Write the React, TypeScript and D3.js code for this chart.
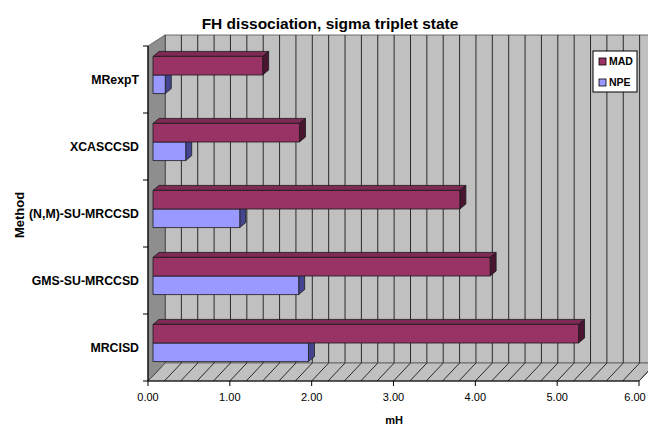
import React from "react";
import * as d3 from "d3";

const categories = ["MRexpT", "XCASCCSD", "(N,M)-SU-MRCCSD", "GMS-SU-MRCCSD", "MRCISD"];
const seriesNames = ["MAD", "NPE"];
const madValues = [1.34, 1.79, 3.75, 4.12, 5.2];
const npeValues = [0.15, 0.4, 1.06, 1.78, 1.9];
const xTicks = [0, 1, 2, 3, 4, 5, 6];
const gridStep = 0.2;

const W = 648, H = 429;
const FRONT_L = 148, FRONT_B = 381, FRONT_T = 46;
const BACK_DX = 17, BACK_DY = -18, WALL_TOP = 35;
const BAR_DX = 5, BAR_DY = -4.5, BAR_DEPTH_X = 6, BAR_DEPTH_Y = -5;

const colors: Record<string, { front: string; top: string; side: string }> = {
  MAD: { front: "#993366", top: "#7d2a54", side: "#4a1530" },
  NPE: { front: "#9999ff", top: "#7a7acc", side: "#45458f" },
};

export default function App() {
  const x = d3.scaleLinear().domain([0, 6]).range([FRONT_L, 639]);
  const y = d3.scaleBand<string>().domain(categories).range([FRONT_T, FRONT_B]).paddingInner(0.445).paddingOuter(0.2225);
  const ySub = d3.scaleBand<string>().domain(seriesNames).range([0, y.bandwidth()]);
  const bandEdges = d3.scaleBand<string>().domain(categories).range([FRONT_T, FRONT_B]);
  const grid = d3.range(0, 6 + 1e-9, gridStep);
  const font = "'Liberation Sans', Arial, sans-serif";

  const renderBar = (cat: string, s: string, v: number) => {
    const x0 = x(0) + BAR_DX;
    const x1 = x(v) + BAR_DX;
    const y0 = (y(cat) as number) + (ySub(s) as number) + BAR_DY;
    const h = ySub.bandwidth();
    const c = colors[s];
    const dx = BAR_DEPTH_X, dy = BAR_DEPTH_Y;
    return (
      <g key={cat + s} stroke="#1a1a1a" strokeWidth={0.8} strokeLinejoin="round">
        <polygon points={`${x0},${y0} ${x1},${y0} ${x1 + dx},${y0 + dy} ${x0 + dx},${y0 + dy}`} fill={c.top} />
        <polygon points={`${x1},${y0} ${x1 + dx},${y0 + dy} ${x1 + dx},${y0 + h + dy} ${x1},${y0 + h}`} fill={c.side} />
        <rect x={x0} y={y0} width={x1 - x0} height={h} fill={c.front} />
      </g>
    );
  };

  return (
    <svg width={W} height={H} style={{ position: "absolute", left: 0, top: 0, background: "#fff" }} fontFamily={font}>
      {/* back wall */}
      <rect x={FRONT_L + BACK_DX} y={WALL_TOP} width={W} height={FRONT_B + BACK_DY - WALL_TOP} fill="#c0c0c0" stroke="#555" strokeWidth={0.8} />
      {grid.map((g, i) => (
        <line key={"g" + i} x1={x(g) + BACK_DX} x2={x(g) + BACK_DX} y1={WALL_TOP} y2={FRONT_B + BACK_DY} stroke="#2a2a2a" strokeWidth={1} />
      ))}
      {/* floor */}
      <polygon
        points={`${FRONT_L},${FRONT_B} ${x(6)},${FRONT_B} ${x(6) + BACK_DX},${FRONT_B + BACK_DY} ${FRONT_L + BACK_DX},${FRONT_B + BACK_DY}`}
        fill="#c0c0c0" stroke="#555" strokeWidth={0.8}
      />
      {grid.map((g, i) => (
        <line key={"f" + i} x1={x(g)} y1={FRONT_B} x2={x(g) + BACK_DX} y2={FRONT_B + BACK_DY} stroke="#2a2a2a" strokeWidth={1} />
      ))}
      {/* left wall */}
      <polygon
        points={`${FRONT_L},${FRONT_T} ${FRONT_L + BACK_DX},${WALL_TOP} ${FRONT_L + BACK_DX},${FRONT_B + BACK_DY} ${FRONT_L},${FRONT_B}`}
        fill="#8e8e8e" stroke="#555" strokeWidth={0.8}
      />
      {/* bars */}
      {categories.map((cat, i) => (
        <g key={cat}>
          {renderBar(cat, "NPE", npeValues[i])}
          {renderBar(cat, "MAD", madValues[i])}
        </g>
      ))}
      {/* axes */}
      <line x1={FRONT_L} x2={FRONT_L} y1={FRONT_T} y2={FRONT_B} stroke="#000" strokeWidth={1.2} />
      {categories.map((cat) => (
        <line key={"t" + cat} x1={FRONT_L - 5} x2={FRONT_L} y1={bandEdges(cat) as number} y2={bandEdges(cat) as number} stroke="#000" />
      ))}
      <line x1={FRONT_L - 5} x2={FRONT_L} y1={FRONT_B} y2={FRONT_B} stroke="#000" />
      <line x1={FRONT_L} x2={x(6)} y1={FRONT_B} y2={FRONT_B} stroke="#000" strokeWidth={1.2} />
      {xTicks.map((t) => (
        <g key={"x" + t}>
          <line x1={x(t)} x2={x(t)} y1={FRONT_B} y2={FRONT_B + 5} stroke="#000" />
          <text x={Math.min(x(t), 635)} y={401} textAnchor="middle" fontSize={11} fill="#000">{t.toFixed(2)}</text>
        </g>
      ))}
      {categories.map((cat) => (
        <text key={"l" + cat} x={139} y={(bandEdges(cat) as number) + bandEdges.bandwidth() / 2 + 4.5} textAnchor="end" fontSize={12.3} fontWeight="bold" fill="#000">
          {cat}
        </text>
      ))}
      {/* titles */}
      <text x={330} y={29} textAnchor="middle" fontSize={15.5} fontWeight="bold">FH dissociation, sigma triplet state</text>
      <text transform="translate(24,215) rotate(-90)" textAnchor="middle" fontSize={13} fontWeight="bold">Method</text>
      <text x={394} y={424} textAnchor="middle" fontSize={11} fontWeight="bold">mH</text>
      {/* legend */}
      <rect x={593} y={51} width={44} height={41} fill="#fff" stroke="#000" strokeWidth={1} />
      {seriesNames.map((s, i) => (
        <g key={"lg" + s}>
          <rect x={599} y={58 + i * 21} width={7} height={7} fill={colors[s].front} stroke="#000" strokeWidth={0.8} />
          <text x={609} y={65 + i * 21} fontSize={10.5} fontWeight="bold">{s}</text>
        </g>
      ))}
    </svg>
  );
}
